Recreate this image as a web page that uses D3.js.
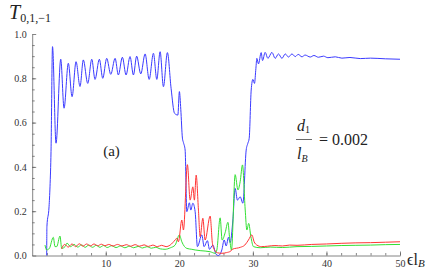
<!DOCTYPE html>
<html>
<head>
<meta charset="utf-8">
<script src="https://cdn.jsdelivr.net/npm/d3@7"></script>
<style>
  body { margin: 0; background: #fff; }
</style>
</head>
<body>
<svg id="chart" width="437" height="273"></svg>
<script>
// curves: [x, T]
var blueT = [[1.97,0],[2.0,0.13],[2.29,0.22],[2.42,0.31],[2.56,0.47],[2.76,0.943],[3.24,0.507],[3.88,0.886],[4.33,0.665],[4.91,0.868],[5.42,0.717],[5.96,0.875],[6.5,0.763],[6.95,0.883],[7.55,0.777],[8.1,0.886],[8.54,0.795],[9.13,0.886],[9.59,0.80],[10.13,0.89],[10.68,0.818],[11.27,0.89],[11.71,0.815],[12.26,0.895],[12.76,0.815],[13.3,0.898],[13.76,0.815],[14.2,0.90],[14.76,0.82],[15.35,0.91],[15.9,0.795],[16.48,0.913],[16.94,0.795],[17.39,0.92],[17.84,0.762],[18.38,0.916],[18.88,0.755],[19.35,0.642],[19.8,0.634],[20.01,0.74],[20.2,0.66],[20.42,0.53],[20.56,0.51],[20.79,0.476],[21.02,0.198],[21.37,0.238],[21.56,0.205],[21.84,0.236],[22.15,0.198],[22.46,0.04],[23.06,0.093],[23.37,0.04],[23.82,0.067],[24.1,0.028],[24.56,0.047],[25.0,0.005],[25.32,0],[25.78,0.025],[26.1,0.07],[26.37,0.043],[26.68,0.082],[26.91,0.058],[27.28,0.16],[27.59,0.303],[27.9,0.25],[28.27,0.265],[28.64,0.236],[29.09,0.476],[29.32,0.507],[29.5,0.529],[29.77,0.747],[30.0,0.795],[30.22,0.777],[30.41,0.845],[30.54,0.89],[30.76,0.865],[31.13,0.916],[31.31,0.88],[31.67,0.917],[32.04,0.89],[32.59,0.917],[33.03,0.89],[33.48,0.91],[33.95,0.89],[34.4,0.91],[34.84,0.896],[35.31,0.91],[35.76,0.898],[36.16,0.908],[36.67,0.897],[37.1,0.905],[37.8,0.896],[38.3,0.903],[38.9,0.895],[39.6,0.9],[40.2,0.893],[41.2,0.897],[42.1,0.891],[43.2,0.894],[44.6,0.889],[46.0,0.891],[48.0,0.888],[50.0,0.886]];

var redT = [[4.0,0.03],[4.4,0.05],[4.9,0.038],[5.4,0.052],[5.9,0.04],[6.4,0.053],[6.9,0.042],[7.4,0.052],[7.9,0.043],[8.4,0.052],[8.9,0.044],[9.4,0.051],[9.9,0.044],[10.4,0.05],[11.0,0.043],[11.6,0.05],[12.2,0.043],[12.8,0.049],[13.4,0.042],[14.0,0.049],[14.6,0.042],[15.2,0.048],[15.8,0.041],[16.4,0.047],[17.0,0.04],[17.6,0.046],[18.2,0.04],[18.75,0.047],[19.43,0.07],[19.66,0.078],[19.88,0.062],[20.34,0.16],[20.56,0.115],[21.1,0.41],[21.47,0.25],[21.84,0.31],[22.05,0.25],[22.29,0.363],[22.6,0.205],[22.83,0.085],[23.2,0.168],[23.51,0.07],[24.19,0.178],[24.5,0.055],[24.78,0.025],[25.2,0.012],[25.8,0.01],[26.4,0.013],[27.0,0.02],[27.2,0.028],[28.3,0.037],[28.9,0.047],[29.4,0.07],[29.86,0.093],[30.17,0.062],[30.54,0.047],[31.2,0.04],[32.0,0.042],[33.0,0.045],[34.0,0.043],[35.0,0.047],[36.0,0.046],[38.0,0.05],[40.0,0.052],[42.0,0.055],[44.0,0.057],[46.0,0.058],[48.0,0.06],[50.0,0.062]];

var greenT = [[1.74,0.047],[1.97,0.025],[2.33,0.032],[2.87,0.082],[3.1,0.04],[3.33,0.04],[3.78,0.088],[4.01,0.032],[4.46,0.04],[4.73,0.056],[5.2,0.04],[5.7,0.05],[6.2,0.038],[6.7,0.048],[7.2,0.037],[7.7,0.047],[8.2,0.037],[8.7,0.046],[9.2,0.037],[9.7,0.045],[10.2,0.036],[10.8,0.044],[11.4,0.036],[12.0,0.043],[12.6,0.035],[13.2,0.042],[13.8,0.035],[14.4,0.041],[15.0,0.034],[15.6,0.04],[16.2,0.033],[16.8,0.037],[17.4,0.03],[18.07,0.028],[18.8,0.035],[19.43,0.047],[20.01,0.093],[20.34,0.062],[21.02,0.032],[21.7,0.028],[22.15,0.025],[22.83,0.022],[24.19,0.017],[24.87,0.01],[25.1,0.025],[25.55,0.17],[25.82,0.07],[26.23,0.103],[26.61,0.15],[26.82,0.085],[27.09,0.025],[27.59,0.365],[27.97,0.296],[28.27,0.333],[28.59,0.409],[28.95,0.21],[29.18,0.115],[29.43,0.145],[29.73,0.085],[30.08,0.04],[31.0,0.035],[32.35,0.038],[34.0,0.036],[36.0,0.04],[38.0,0.041],[40.0,0.043],[42.0,0.045],[44.0,0.046],[46.0,0.047],[48.0,0.049],[50.0,0.05]];

var xTicks = [10, 20, 30, 40, 50];
var yTicks = [0, 0.2, 0.4, 0.6, 0.8, 1.0];

var serif = 'Liberation Serif';
var svg = d3.select('#chart').attr('font-family', serif);

var x = d3.scaleLinear().domain([0, 50]).range([32.2, 400]);
var y = d3.scaleLinear().domain([0, 1]).range([255.5, 34]);

//minor ticks first
svg.append('g')
    .attr('transform', 'translate(0,' + y(0) + ')')
    .call(d3.axisBottom(x).tickValues(d3.range(2, 51, 2)).tickSize(-2.5).tickFormat(''))
    .call(g => g.select('.domain').remove());
svg.append('g')
    .attr('transform', 'translate(' + x(0) + ',0)')
    .call(d3.axisLeft(y).tickValues(d3.range(0.05, 1.0, 0.05)).tickSize(-2.5).tickFormat(''))
    .call(g => g.select('.domain').remove());

svg.append('g')
    .attr('transform', 'translate(0,' + y(0) + ')')
    .call(d3.axisBottom(x).tickValues(xTicks).tickSizeInner(-4).tickSizeOuter(0).tickPadding(4));
svg.append('g')
    .attr('transform', 'translate(' + x(0) + ',0)')
    .call(d3.axisLeft(y).tickValues(yTicks).tickSizeInner(-4).tickSizeOuter(0).tickPadding(5.5)
        .tickFormat(d3.format('.1f')));

svg.selectAll('g').attr('font-family', serif);
svg.selectAll('.tick line, .domain').attr('stroke', '#666').attr('stroke-width', 0.8);
svg.selectAll('.tick text').attr('fill', '#333').attr('font-size', 10);

//curves
var line = d3.line()
    .x(d => x(d[0]))
    .y(d => y(d[1]))
    .curve(d3.curveMonotoneX);

var series = [
    {data: blueT, color: '#3a3aff'},
    {data: greenT, color: '#33e033'},
    {data: redT, color: '#ff3535'}
];
series.forEach(function(s){
    svg.append('path')
        .datum(s.data)
        .attr('d', line)
        .attr('fill', 'none')
        .attr('stroke', s.color)
        .attr('stroke-width', 1);
});

//labels
var title = svg.append('text').attr('x', 9).attr('y', 19).attr('fill', '#222');
title.append('tspan').attr('font-style', 'italic').attr('font-size', 20).text('T');
title.append('tspan').attr('dy', 3).attr('font-size', 12).text('0,1,\u22121');

svg.append('text').attr('x', 111.5).attr('y', 156).attr('text-anchor', 'middle')
    .attr('font-size', 15).attr('fill', '#222').text('(a)');

var num = svg.append('text').attr('x', 297).attr('y', 131).attr('fill', '#222').attr('font-size', 16);
num.append('tspan').attr('font-style', 'italic').text('d');
num.append('tspan').attr('dy', 2).attr('font-size', 10).text('1');
svg.append('line').attr('x1', 296).attr('x2', 312).attr('y1', 139.5).attr('y2', 139.5)
    .attr('stroke', '#444').attr('stroke-width', 0.8);
var den = svg.append('text').attr('x', 297).attr('y', 159).attr('fill', '#222').attr('font-size', 16);
den.append('tspan').attr('font-style', 'italic').text('l');
den.append('tspan').attr('dy', 3).attr('font-style', 'italic').attr('font-size', 10).text('B');
svg.append('text').attr('x', 319).attr('y', 145).attr('fill', '#222').attr('font-size', 16)
    .text('= 0.002');

var xl = svg.append('text').attr('x', 407).attr('y', 265).attr('fill', '#222').attr('font-size', 16);
xl.append('tspan').text('\u03f5l');
xl.append('tspan').attr('dy', 2).attr('font-style', 'italic').attr('font-size', 11).text('B');
</script>
</body>
</html>
